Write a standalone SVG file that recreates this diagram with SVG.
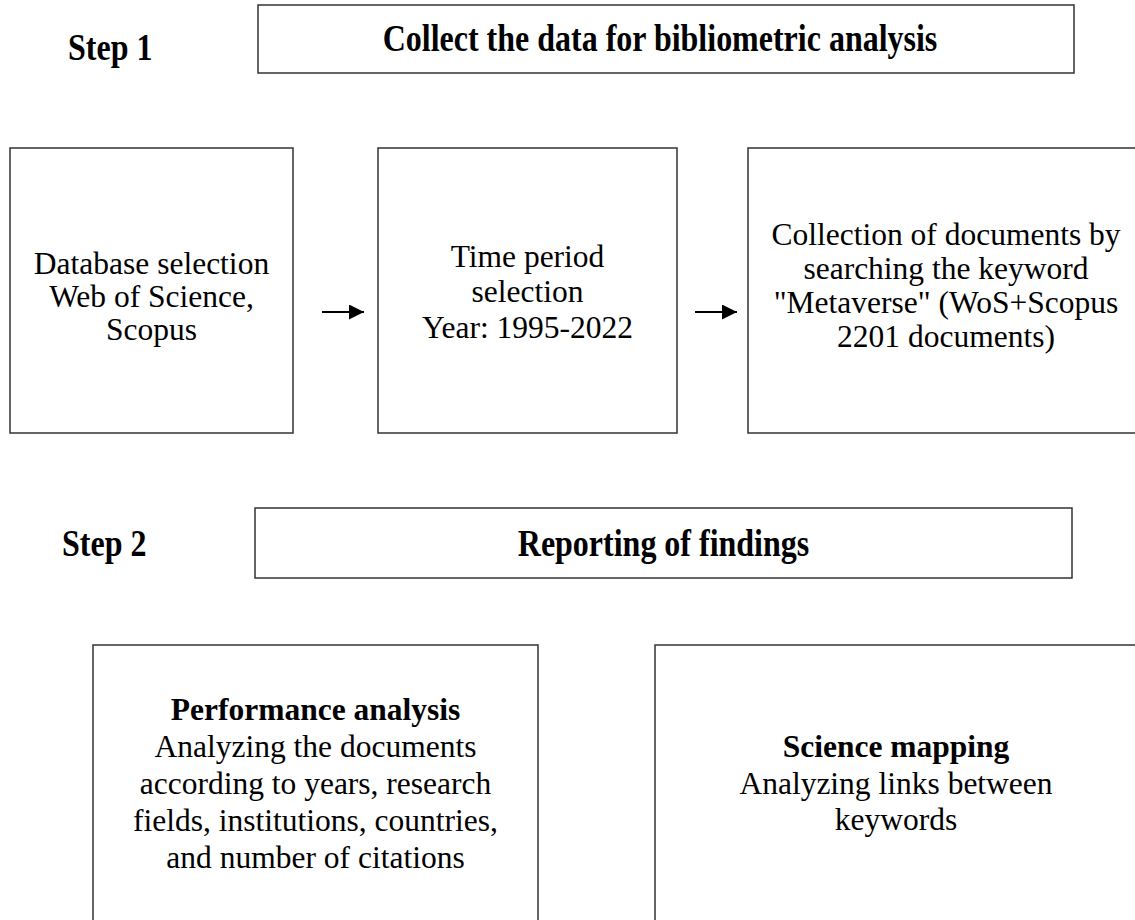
<svg xmlns="http://www.w3.org/2000/svg" width="1135" height="920" viewBox="0 0 1135 920">
  <style>
    .box { fill: #ffffff; stroke: #333333; stroke-width: 1.5; }
    .t { font-family: "Liberation Serif", "Times New Roman", serif; font-size: 31.5px; fill: #000000; text-anchor: middle; }
    .b { font-weight: bold; }
    .h { font-family: "Liberation Serif", "Times New Roman", serif; font-size: 32px; font-weight: bold; fill: #000000; }
    .conn { stroke: #000000; stroke-width: 2; fill: none; }
  </style>
  <defs>
    <marker id="arrow" viewBox="0 0 10 10" refX="10" refY="5" markerWidth="7.5" markerHeight="7.5" markerUnits="strokeWidth" orient="auto">
      <path d="M0,0 L10,5 L0,10 z" fill="#000000"/>
    </marker>
  </defs>
  <rect width="1135" height="920" fill="#ffffff"/>

  <g id="step1-label">
    <text class="h" transform="translate(68,60) scale(1,1.2)">Step 1</text>
  </g>
  <g id="header1">
    <rect class="box" x="258" y="5" width="816" height="68"/>
    <text class="h" text-anchor="middle" transform="translate(660,51) scale(1,1.2)">Collect the data for bibliometric analysis</text>
  </g>

  <g id="db-selection">
    <rect class="box" x="10" y="148" width="283" height="285"/>
    <text class="t" x="151.5" y="274">Database selection</text>
    <text class="t" x="151.5" y="307">Web of Science,</text>
    <text class="t" x="151.5" y="340">Scopus</text>
  </g>
  <g id="time-period">
    <rect class="box" x="378" y="148" width="299" height="285"/>
    <text class="t" x="527.5" y="267">Time period</text>
    <text class="t" x="527.5" y="302">selection</text>
    <text class="t" x="527.5" y="338">Year: 1995-2022</text>
  </g>
  <g id="collection">
    <rect class="box" x="748" y="148" width="400" height="285"/>
    <text class="t" x="946" y="245">Collection of documents by</text>
    <text class="t" x="946" y="279">searching the keyword</text>
    <text class="t" x="946" y="313">"Metaverse" (WoS+Scopus</text>
    <text class="t" x="946" y="347">2201 documents)</text>
  </g>

  <g id="connectors">
    <line class="conn" x1="322" y1="312" x2="364" y2="312" marker-end="url(#arrow)"/>
    <line class="conn" x1="695" y1="312" x2="737" y2="312" marker-end="url(#arrow)"/>
  </g>

  <g id="step2-label">
    <text class="h" transform="translate(62,556) scale(1,1.2)">Step 2</text>
  </g>
  <g id="header2">
    <rect class="box" x="255" y="508" width="817" height="70"/>
    <text class="h" text-anchor="middle" transform="translate(663.5,556) scale(1,1.2)">Reporting of findings</text>
  </g>

  <g id="performance">
    <rect class="box" x="93" y="645" width="445" height="290"/>
    <text class="t b" x="315.5" y="720">Performance analysis</text>
    <text class="t" x="315.5" y="757">Analyzing the documents</text>
    <text class="t" x="315.5" y="794">according to years, research</text>
    <text class="t" x="315.5" y="831">fields, institutions, countries,</text>
    <text class="t" x="315.5" y="868">and number of citations</text>
  </g>
  <g id="science-mapping">
    <rect class="box" x="655" y="645" width="490" height="290"/>
    <text class="t b" x="896" y="757">Science mapping</text>
    <text class="t" x="896" y="794">Analyzing links between</text>
    <text class="t" x="896" y="830">keywords</text>
  </g>
</svg>
